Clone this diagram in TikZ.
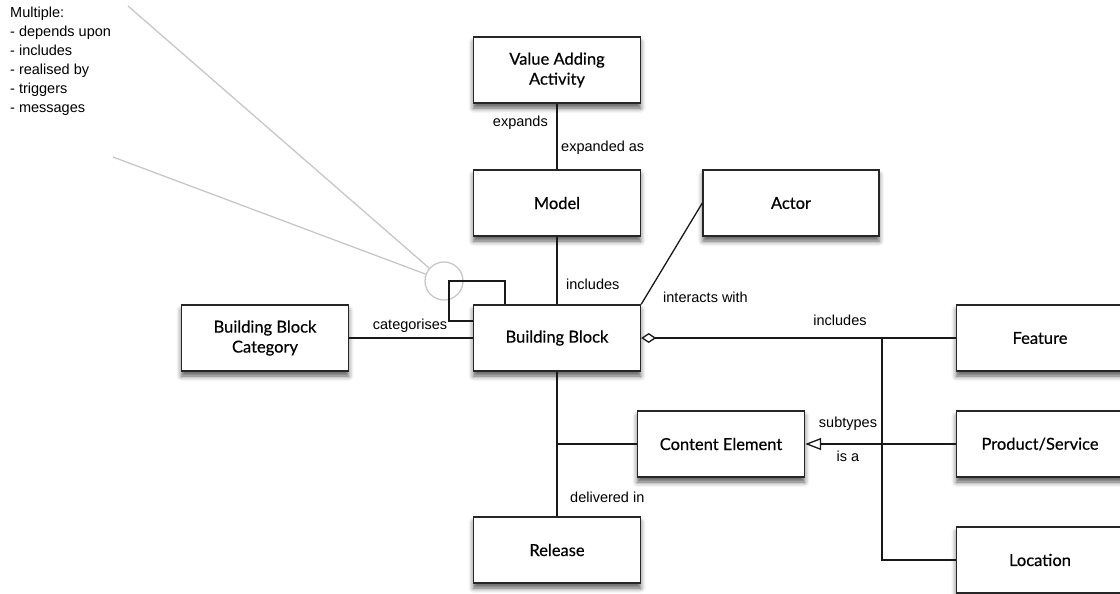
\documentclass[tikz,border=0pt]{standalone}
\usepackage{fontspec}
\setmainfont{Liberation Sans}
\newfontfamily\boxfont[FakeBold=0.4]{Lato}
\usetikzlibrary{arrows.meta,shadows.blur}

\tikzset{
  block/.style={draw=black!85, line width=1.4pt, fill=white,
    minimum width=167pt, minimum height=66pt, align=center,
    font=\boxfont\fontsize{16.5}{20}\selectfont,
    blur shadow={shadow xshift=0pt, shadow yshift=-5pt,
      shadow blur radius=5pt, shadow opacity=65}},
  lbl/.style={font=\fontsize{14.5}{19}\selectfont, inner sep=0pt},
  link/.style={line width=1.3pt, black!90},
  note/.style={line width=1.3pt, black!22},
}

\begin{document}
\begin{tikzpicture}[x=1pt,y=-1pt]
  \useasboundingbox (0,0) rectangle (1120,594);
  %\draw[very thin,lightgray,step=50] (0,0) grid (1120,594);

  % boxes
  \node[block] (vaa) at (557,70) {Value Adding\\Activity};
  \node[block] (model) at (557,203) {Model};
  \node[block, minimum width=176pt] (actor) at (791,203) {Actor};
  \node[block] (bb) at (557,338) {Building Block};
  \node[block] (bbc) at (265,338) {Building Block\\Category};
  \node[block] (ce) at (721,444) {Content Element};
  \node[block] (release) at (557,550) {Release};
  \node[block] (feat) at (1040,338) {Feature};
  \node[block] (prod) at (1040,444) {Product/Service};
  \node[block] (loc) at (1040,560) {Location};

  % note about the self loop
  \node[lbl, anchor=north west, align=left] (multi) at (10,7)
    {Multiple:\\- depends upon\\- includes\\- realised by\\- triggers\\- messages};
  \node[circle, draw=black!22, line width=1.3pt, minimum size=38pt] (ring) at (444,281) {};
  \coordinate (n1) at (128,6);
  \coordinate (n2) at (113,157);
  \draw[note] (ring) -- (n1);
  \draw[note] (ring) -- (n2);

  % connectors
  \draw[link] (vaa) -- (model);
  \draw[link] (model) -- (bb);
  \draw[link] (bb) -- (release);
  \draw[link] (bbc) -- (bb);
  \draw[link] (bb.north east) -- (actor.west);
  \coordinate (loopcorner) at (449,281);
  \draw[link] ([xshift=-52pt]bb.north) |- (loopcorner) |- ([yshift=17pt]bb.west);
  \draw[link] (release.north |- ce.west) -- (ce.west);
  \draw[link, {Diamond[open,length=15pt,width=10pt,line width=1.3pt]}-] (bb.east) -- (feat.west);
  \coordinate (fork) at (882,338);
  \draw[link] (fork) |- (loc.west);
  \draw[link, -{Triangle[open,length=16pt,width=12pt,line width=1.3pt]}] (prod.west) -- (ce.east);

  % labels
  \node[lbl, anchor=east] (lexp) at (548,123) {expands};
  \node[lbl, anchor=west] (lexpas) at (561,148) {expanded as};
  \node[lbl, anchor=west] (linc) at (566,284) {includes};
  \node[lbl, anchor=west] (lint) at (663,297) {interacts with};
  \node[lbl] (lcat) at (410,326) {categorises};
  \node[lbl] (lfeat) at (840,320) {includes};
  \node[lbl] (lsub) at (848,424) {subtypes};
  \node[lbl] (lisa) at (848,456) {is a};
  \node[lbl, anchor=west] (ldel) at (570,497) {delivered in};
\end{tikzpicture}
\end{document}
